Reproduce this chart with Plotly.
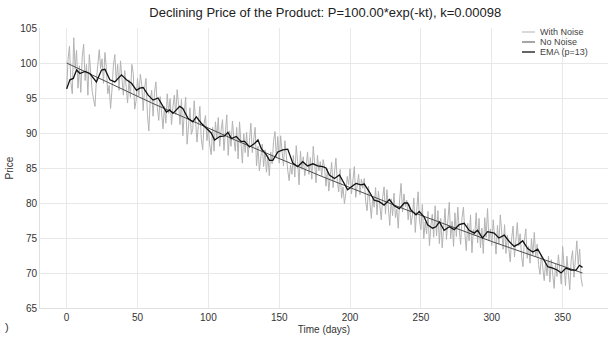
import plotly.graph_objects as go

# ---- data ----
noisy_values = [
    96.3, 100.5, 102.4, 97.2, 95.6, 103.6, 99.1, 101.8, 96.4, 99.6,
    95.8, 100.9, 102.7, 97.5, 99.8, 95.4, 101.2, 98.3, 96.0, 94.8,
    93.8, 97.6, 100.4, 101.9, 99.2, 100.6, 97.1, 101.5, 99.4, 95.6,
    96.8, 93.5, 96.2, 99.7, 101.2, 97.4, 99.8, 96.1, 100.3, 97.9,
    95.4, 98.9, 96.2, 94.3, 97.6, 95.1, 99.8, 98.5, 93.4, 94.6,
    97.8, 95.3, 98.4, 96.9, 93.2, 96.4, 97.8, 92.6, 90.3, 94.8,
    96.1, 92.4, 95.8, 97.3, 93.6, 91.8, 95.2, 92.1, 90.6, 93.8,
    91.4, 95.6, 92.8, 94.9, 91.2, 93.7, 95.4, 92.6, 96.2, 93.9,
    91.2, 94.8, 89.6, 92.9, 95.1, 88.4, 91.7, 93.6, 89.8, 90.5,
    94.6, 92.1, 88.7, 91.3, 93.8, 89.2, 87.6, 91.4, 92.5, 88.9,
    90.6, 88.3, 86.9, 90.8, 87.4, 91.6, 89.3, 92.2, 88.1, 90.4,
    91.9, 87.5, 89.8, 92.6, 86.8, 90.3, 88.1, 91.7, 89.2, 87.4,
    90.8, 86.3, 91.6, 88.4, 85.7, 89.9, 87.2, 90.1, 86.6, 88.9,
    91.4, 87.2, 89.6, 90.8, 85.3, 88.1, 84.6, 86.9, 88.4, 85.2,
    87.6, 84.4, 86.8, 83.9, 87.3, 85.6, 88.8, 90.2, 86.4, 89.5,
    85.7, 89.6, 87.1, 85.3, 88.9, 86.2, 84.7, 83.2, 85.4, 84.1,
    86.8, 83.7, 88.2, 85.9, 82.6, 87.4, 84.8, 86.6, 83.9, 85.2,
    87.3, 84.1, 86.5, 83.4, 88.1, 85.7, 82.9, 86.8, 84.6, 85.9,
    83.8, 86.2, 85.1, 82.4, 84.9, 81.7, 83.6, 85.8, 82.2, 84.7,
    86.4, 83.1, 81.6, 84.8, 80.7, 82.3, 79.9, 81.4, 83.8, 82.6,
    84.9, 81.3, 83.6, 85.2, 80.8, 82.7, 84.1, 81.2, 83.4, 82.1,
    83.5, 80.2, 78.9, 82.4, 79.6, 77.8, 80.9, 79.4, 82.2, 78.3,
    81.7, 79.1, 77.6, 80.8, 82.3, 78.4, 81.9, 79.3, 76.8, 80.6,
    78.2, 81.4, 77.9, 79.1, 76.4, 80.6, 82.8, 78.7, 81.3, 79.5,
    80.4, 77.6, 79.8, 76.9, 78.3, 80.7, 75.8, 78.9, 81.6, 77.4,
    76.2, 79.8, 74.9, 77.3, 75.6, 78.8, 73.9, 76.7, 78.4, 75.1,
    79.6, 75.3, 78.9, 74.2, 77.8, 73.6, 76.4, 79.2, 74.8, 77.6,
    80.1, 74.9, 77.4, 73.8, 78.6, 75.2, 79.4, 76.3, 74.1, 77.9,
    79.4, 75.7, 73.2, 77.1, 74.6, 78.3, 72.9, 76.2, 75.4, 78.6,
    74.3, 77.8, 73.6, 76.4, 72.8, 77.9, 75.1, 79.2, 74.6, 76.3,
    73.9, 77.6, 75.2, 72.7, 76.8, 74.1, 78.3, 75.5, 73.4, 76.9,
    72.8, 75.4, 73.1, 71.6, 74.9, 76.7, 72.3, 74.8, 77.2, 73.9,
    75.6, 72.4, 70.9, 74.7, 76.3, 72.1, 73.8, 71.4, 74.9, 72.6,
    75.8, 72.3, 74.1, 71.2, 69.8, 72.6, 70.4, 68.9, 71.7, 69.6,
    72.4, 68.7, 71.9, 70.2, 67.8, 71.3, 69.5, 72.6, 70.1, 68.4,
    73.8, 70.9, 68.2, 72.4, 69.7, 67.6, 71.8, 73.2, 69.4, 72.1,
    74.6, 71.2, 73.4, 69.3, 68.1,
]
noisy_days = list(range(len(noisy_values)))

clean_days = [0, 60, 120, 180, 240, 300, 364]
clean_values = [100.0, 94.3, 88.9, 83.8, 79.0, 74.5, 70.0]

ema_days = [0, 2.3, 4.7, 7, 9.4, 12.9, 16.4, 21, 24.6, 27, 30.5, 34, 38.7, 42.2,
            45.8, 49.3, 51.6, 54, 57.5, 61, 64.5, 68, 70.4, 72.7, 75, 77.4, 79.8,
            82, 85.6, 89, 91.5, 95, 98.5, 102, 104.4, 108, 111.5, 113.8, 116.2,
            119.7, 123, 125.6, 129, 132.6, 135, 137.3, 140.8, 143.2, 145.5, 149,
            152.5, 156, 159.6, 163, 166.6, 170, 173.8, 177.2, 180.7, 183, 185.4,
            189, 192.5, 196, 198.3, 200.7, 204.2, 207.7, 210, 213.6, 217, 220.6,
            224, 227.7, 231.2, 234.7, 238.3, 240.6, 243, 246.5, 248.8, 252.3,
            254.7, 258.2, 260.6, 263, 266.4, 270, 273.5, 277, 280.5, 284, 287.6,
            290, 293.4, 297, 301.7, 305, 308.8, 312.3, 315.8, 319.4, 321.8,
            325.3, 328.9, 332.4, 336, 339.5, 343, 346.5, 348.9, 352.4, 356,
            359.5, 361.8, 364]
ema_values = [96.3, 97.6, 97.8, 99.0, 98.5, 98.8, 98.5, 97.3, 99.0, 99.1, 97.6, 97.3,
              98.3, 97.6, 97.1, 96.1, 96.4, 96.5, 95.4, 94.7, 95.0, 93.8, 93.0,
              93.3, 92.8, 93.3, 93.8, 93.5, 92.1, 91.6, 92.3, 91.4, 90.7, 90.0,
              89.0, 89.5, 89.6, 90.1, 89.2, 89.5, 88.8, 88.8, 88.0, 88.5, 89.0,
              87.8, 86.9, 86.1, 86.1, 87.3, 87.6, 87.7, 85.7, 85.2, 85.9, 85.3,
              85.6, 85.3, 85.2, 85.0, 84.0, 83.5, 84.0, 82.8, 81.9, 82.3, 82.8,
              82.6, 82.7, 81.6, 80.4, 80.2, 79.7, 80.5, 79.6, 79.2, 80.0, 80.0,
              79.0, 78.3, 78.8, 78.0, 76.9, 76.4, 76.6, 77.3, 76.1, 76.6, 76.2,
              76.9, 77.1, 76.1, 75.7, 76.1, 75.0, 75.9, 75.7, 75.0, 75.4, 74.5,
              73.8, 74.2, 74.6, 73.5, 73.0, 73.4, 72.1, 70.9, 70.7, 70.4, 70.0,
              70.7, 70.4, 70.4, 71.1, 70.8]

x_ticks = [0, 50, 100, 150, 200, 250, 300, 350]
y_ticks = [65, 70, 75, 80, 85, 90, 95, 100, 105]

series_names = ["With Noise", "No Noise", "EMA (p=13)"]
series_colors = ["#b3b3b3", "#4d4d4d", "#111111"]
series_widths = [1, 1, 1.3]

FONT = "Liberation Sans, Arial, sans-serif"

fig = go.Figure()
series = [(noisy_days, noisy_values), (clean_days, clean_values), (ema_days, ema_values)]
for (xs, ys), name, col, w in zip(series, series_names, series_colors, series_widths):
    fig.add_trace(go.Scatter(x=xs, y=ys, mode="lines", name=name,
                             line=dict(color=col, width=w), showlegend=False))

# compact legend, top-right (drawn as text + short line samples)
annotations = []
shapes = []
plot_w, plot_h = 568.0, 280.0
for i, (name, col, w) in enumerate(zip(series_names, series_colors, series_widths)):
    ypix = 4 + 10 * i            # pixels below the top of the plot area
    yp = 1 - ypix / plot_h
    shapes.append(dict(type="line", xref="paper", yref="paper",
                       x0=(522 - 40) / plot_w, x1=(535 - 40) / plot_w, y0=yp, y1=yp,
                       line=dict(color=col, width=w)))
    annotations.append(dict(text=name, xref="paper", yref="paper",
                            x=(538 - 40) / plot_w, y=yp, xanchor="left", yanchor="middle",
                            showarrow=False, font=dict(size=9, color="#444444")))

annotations.append(dict(text=")", xref="paper", yref="paper", x=-0.066, y=-0.068,
                        xanchor="left", yanchor="middle", showarrow=False,
                        font=dict(size=11, color="#333333")))

fig.update_layout(
    width=608, height=339,
    margin=dict(l=40, r=0, t=28, b=31),
    paper_bgcolor="white", plot_bgcolor="white",
    font=dict(family=FONT, color="#333333", size=10),
    title=dict(text="Declining Price of the Product: P=100.00*exp(-kt), k=0.00098",
               x=0.535, xanchor="center", y=0.962, yanchor="middle",
               font=dict(size=13, color="#222222")),
    showlegend=False,
    xaxis=dict(range=[-18.8, 382], tickvals=x_ticks, showgrid=True,
               gridcolor="#e8e8e8", zeroline=False, showline=True,
               linecolor="#e0e0e0", ticks="", tickfont=dict(size=10),
               title=dict(text="Time (days)", font=dict(size=10), standoff=3)),
    yaxis=dict(range=[65, 105], tickvals=y_ticks, showgrid=True,
               gridcolor="#e8e8e8", zeroline=False, showline=True,
               linecolor="#e0e0e0", ticks="", tickfont=dict(size=10),
               title=dict(text="Price", font=dict(size=10), standoff=4)),
    annotations=annotations,
    shapes=shapes,
)

fig.write_html("out.html")
